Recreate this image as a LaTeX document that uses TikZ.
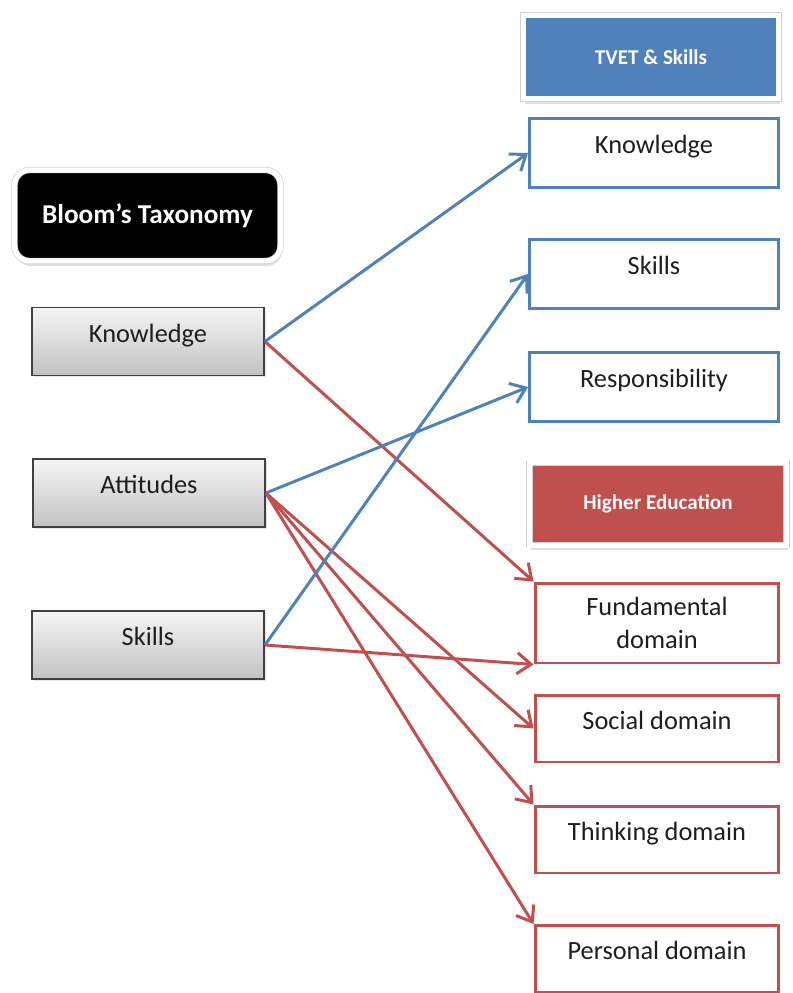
\documentclass[tikz,border=0pt]{standalone}
\usepackage{fontspec}
\setmainfont{Carlito}
\usepackage{tikz}
\usetikzlibrary{arrows.meta, positioning, shadows}
\definecolor{offblue}{HTML}{4F81BD}
\definecolor{offred}{HTML}{C0504D}
\definecolor{txtgray}{HTML}{1E1E22}
\tikzset{
  every node/.style={font=\fontsize{15}{18}\selectfont, text=txtgray},
  upper/.style={text height=8pt, text depth=7pt},
  softshadow/.style={drop shadow={opacity=0.25, shadow xshift=0.03cm, shadow yshift=-0.1cm}},
  headbox/.style={draw=gray!35, line width=0.4pt, double=white, double distance=0.1cm,
    text=white, font=\fontsize{12}{14}\selectfont\bfseries, softshadow},
  bloombox/.style={headbox, fill=black, rounded corners=0.3cm, minimum width=5.32cm,
    minimum height=1.82cm, font=\fontsize{15.5}{18}\selectfont\bfseries},
  leftbox/.style={draw=black!75, line width=1.1pt, top color=black!4, bottom color=black!24,
    minimum width=4.64cm, minimum height=1.36cm, upper,
    drop shadow={opacity=0.2, shadow xshift=0.04cm, shadow yshift=-0.04cm}},
  bluebox/.style={draw=offblue, line width=1.7pt, fill=white, minimum width=4.98cm, minimum height=1.38cm, upper},
  redbox/.style={draw=offred, line width=1.7pt, fill=white, minimum width=4.88cm, minimum height=1.34cm, upper},
  blueline/.style={draw=offblue, line width=1.7pt, -{Straight Barb[length=2.8mm, width=4.2mm]}},
  redline/.style={draw=offred, line width=1.7pt, -{Straight Barb[length=2.8mm, width=4.2mm]}}
}
\begin{document}
\begin{tikzpicture}[x=0.02cm, y=-0.02cm]
  \useasboundingbox (0,0) rectangle (792,993);
  % headers
  \node[bloombox] (bloom) at (147.5,215.5) {Bloom’s Taxonomy};
  \node[headbox, fill=offblue, minimum width=5.11cm, minimum height=1.67cm] (tvet) at (651,57) {TVET \& Skills};
  \node[headbox, fill=offred, minimum width=5.14cm, minimum height=1.65cm] (higher) at (658,504) {Higher Education};
  % left column
  \node[leftbox] (kL) at (148,341.5) {Knowledge};
  \node[leftbox] (aL) at (149,493) {Attitudes};
  \node[leftbox] (sL) at (148,645) {Skills};
  % TVET column
  \node[bluebox] (kR) at (654,153) {Knowledge};
  \node[bluebox] (skR) at (654,274) {Skills};
  \node[bluebox] (rR) at (654,387) {Responsibility};
  % higher education column
  \node[redbox, minimum height=1.6cm, align=center, text height={}, text depth={},
    font=\fontsize{15}{19}\selectfont] (fR) at (657,623) {Fundamental\\domain};
  \node[redbox] (soR) at (657,728.5) {Social domain};
  \node[redbox] (thR) at (657,839.5) {Thinking domain};
  \node[redbox] (peR) at (657,959) {Personal domain};
  % links
  \draw[blueline] (kL.east) -- (kR.west);
  \draw[redline] (kL.east) -- (fR.north west);
  \draw[blueline] (aL.east) -- (rR.west);
  \draw[redline] (aL.east) -- (soR.west);
  \draw[redline] (aL.east) -- (thR.north west);
  \draw[redline] (aL.east) -- (peR.north west);
  \draw[blueline] (sL.east) -- (skR.west);
  \draw[redline] (sL.east) -- (fR.south west);
\end{tikzpicture}
\end{document}
